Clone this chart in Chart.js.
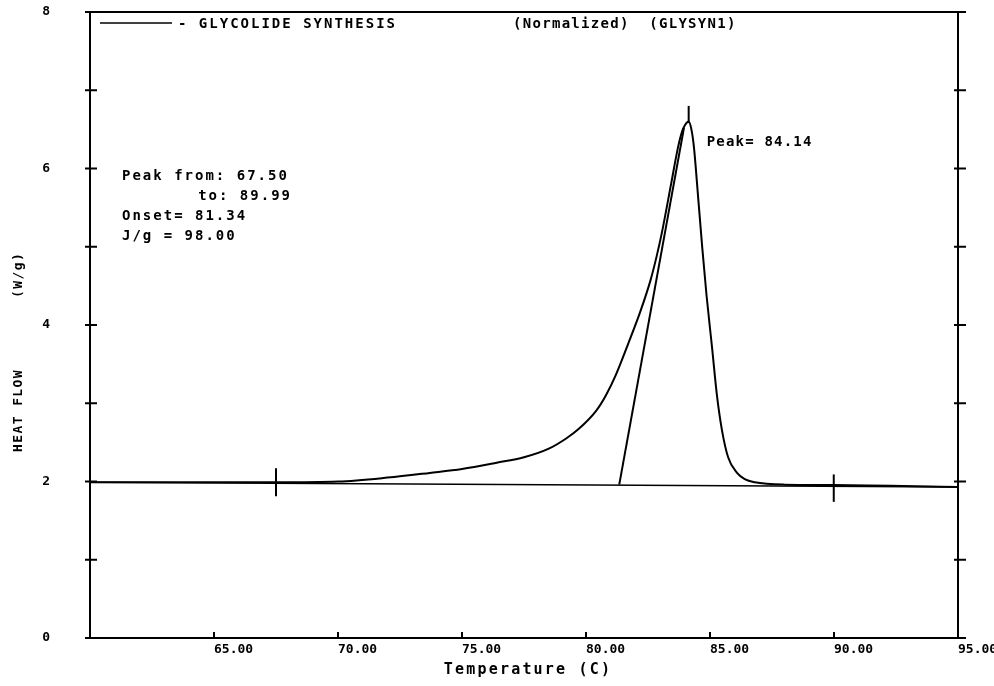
<!DOCTYPE html>
<html>
<head>
<meta charset="utf-8">
<title>GLYCOLIDE SYNTHESIS - DSC</title>
<script src="https://cdn.jsdelivr.net/npm/chart.js@4.4.1/dist/chart.umd.min.js"></script>
<style>
  html, body { margin: 0; padding: 0; background: #fff; }
  #wrap { width: 994px; height: 686px; }
</style>
</head>
<body>
<div id="wrap"><canvas id="dsc" width="994" height="686"></canvas></div>
<script>
// ---- data ----
const temps = [60, 65, 67.5, 70, 72, 73.7, 75, 76.4, 77.5, 78.5, 79.2, 79.7, 80.4, 80.8, 81.2, 81.7,
  82.2, 82.6, 82.85, 83.06, 83.43, 83.71, 83.87, 84.0, 84.14, 84.25, 84.35, 84.53, 84.69, 84.86, 85.08,
  85.28, 85.48, 85.73, 86.09, 86.4, 86.8, 88, 90, 95];
const heatFlow = [1.99, 1.99, 1.99, 2.0, 2.05, 2.11, 2.16, 2.24, 2.31, 2.42, 2.55, 2.67, 2.9, 3.1, 3.36, 3.76,
  4.18, 4.57, 4.88, 5.18, 5.8, 6.27, 6.47, 6.56, 6.6, 6.5, 6.28, 5.6, 4.98, 4.38, 3.72,
  3.1, 2.66, 2.31, 2.11, 2.03, 1.99, 1.96, 1.955, 1.93];

const baseTemps = [60, 95];
const baseFlow = [1.99, 1.93];

const onsetTemps = [81.34, 83.95];
const onsetFlow = [1.96, 6.52];

// vertical markers: peak start, peak end, peak max
const markerTemps = [67.5, 89.99, 84.14];
const markerLow = [1.81, 1.74, 6.58];
const markerHigh = [2.17, 2.09, 6.8];

const xTickValues = [60, 65, 70, 75, 80, 85, 90, 95];
const yTickValues = [0, 1, 2, 3, 4, 5, 6, 7, 8];

const infoLines = ['Peak from: 67.50', 'to: 89.99', 'Onset= 81.34', 'J/g = 98.00'];

const MONO = '"DejaVu Sans Mono", "Liberation Mono", monospace';

const pts = (xs, ys) => xs.map((v, i) => ({ x: v, y: ys[i] }));

const lineSet = (data, width, extra = {}) => ({
  data,
  showLine: true,
  borderColor: '#000',
  borderWidth: width,
  pointRadius: 0,
  fill: false,
  ...extra
});

const datasets = [
  lineSet(pts(temps, heatFlow), 2, { cubicInterpolationMode: 'monotone' }),
  lineSet(pts(baseTemps, baseFlow), 1.6),
  lineSet(pts(onsetTemps, onsetFlow), 2)
];
markerTemps.forEach((t, i) => {
  datasets.push(lineSet([{ x: t, y: markerLow[i] }, { x: t, y: markerHigh[i] }], 2));
});

// scale box is fixed so the plot frame sits where the plotter put it
const fixBox = (size) => (s) => {
  if (s.isHorizontal()) s.height = size; else s.width = size;
  s.paddingTop = 0; s.paddingBottom = 0; s.paddingLeft = 0; s.paddingRight = 0;
};

// frame, inward ticks and the plotter texts
const plotterDecor = {
  id: 'plotterDecor',
  afterDraw(chart) {
    const { ctx, chartArea: a, scales: { x, y } } = chart;
    const seg = (x1, y1, x2, y2) => {
      ctx.beginPath(); ctx.moveTo(x1, y1); ctx.lineTo(x2, y2); ctx.stroke();
    };
    ctx.save();
    ctx.strokeStyle = '#000';
    ctx.fillStyle = '#000';
    ctx.lineWidth = 2;
    ctx.strokeRect(a.left, a.top, a.right - a.left, a.bottom - a.top);

    y.ticks.forEach(t => {
      const py = y.getPixelForValue(t.value);
      seg(a.left - 5, py, a.left + 7, py);
      seg(a.right - 4, py, a.right + 8, py);
    });
    x.ticks.forEach(t => {
      if (t.value <= x.min || t.value >= x.max) return;
      const px = x.getPixelForValue(t.value);
      seg(px, a.bottom - 6, px, a.bottom);
    });

    // legend line
    ctx.lineWidth = 1.5;
    seg(a.left + 10, a.top + 11, a.left + 82, a.top + 11);

    ctx.font = 'bold 14px ' + MONO;
    ctx.letterSpacing = '2px';
    ctx.textBaseline = 'middle';
    ctx.textAlign = 'left';
    ctx.fillText('- GLYCOLIDE SYNTHESIS', a.left + 88, a.top + 12);
    ctx.letterSpacing = '1.3px';
    ctx.fillText('(Normalized)  (GLYSYN1)', a.left + 423, a.top + 12);

    // peak info block
    ctx.letterSpacing = '2px';
    ctx.fillText(infoLines[0], a.left + 32, a.top + 164);
    ctx.textAlign = 'right';
    ctx.fillText(infoLines[1], a.left + 202, a.top + 184);
    ctx.textAlign = 'left';
    ctx.fillText(infoLines[2], a.left + 32, a.top + 204);
    ctx.fillText(infoLines[3], a.left + 32, a.top + 224);

    ctx.letterSpacing = '1.2px';
    ctx.fillText('Peak= ' + markerTemps[2].toFixed(2),
      x.getPixelForValue(markerTemps[2]) + 18, y.getPixelForValue(6.34));

    // axis titles
    ctx.font = 'bold 15px ' + MONO;
    ctx.letterSpacing = '2.2px';
    ctx.textAlign = 'center';
    ctx.fillText('Temperature (C)', (a.left + a.right) / 2 + 4, a.bottom + 32);

    ctx.font = 'bold 13px ' + MONO;
    ctx.letterSpacing = '1.4px';
    ctx.textAlign = 'left';
    ctx.save();
    ctx.translate(19, 452);
    ctx.rotate(-Math.PI / 2);
    ctx.fillText('HEAT FLOW', 0, 0);
    ctx.restore();
    ctx.save();
    ctx.translate(19, 298);
    ctx.rotate(-Math.PI / 2);
    ctx.fillText('(W/g)', 0, 0);
    ctx.restore();

    ctx.restore();
  }
};

new Chart(document.getElementById('dsc'), {
  type: 'scatter',
  data: { datasets },
  options: {
    responsive: false,
    animation: false,
    layout: { padding: { top: 12, right: 36, left: 0, bottom: 0 } },
    plugins: {
      legend: { display: false },
      tooltip: { enabled: false }
    },
    scales: {
      x: {
        type: 'linear',
        min: 60,
        max: 95,
        grid: { display: false, drawTicks: false },
        border: { display: false },
        afterBuildTicks: s => { s.ticks = xTickValues.map(v => ({ value: v })); },
        afterFit: fixBox(48),
        ticks: {
          align: 'start',
          padding: 4,
          maxRotation: 0,
          autoSkip: false,
          color: '#000',
          font: { family: MONO, size: 13, weight: 'bold' },
          callback: v => (v === 60 ? '' : Number(v).toFixed(2))
        }
      },
      y: {
        type: 'linear',
        min: 0,
        max: 8,
        grid: { display: false, drawTicks: false },
        border: { display: false },
        afterBuildTicks: s => { s.ticks = yTickValues.map(v => ({ value: v })); },
        afterFit: fixBox(90),
        ticks: {
          padding: 40,
          autoSkip: false,
          color: '#000',
          font: { family: MONO, size: 13, weight: 'bold' },
          callback: v => (v % 2 === 0 ? String(v) : '')
        }
      }
    }
  },
  plugins: [plotterDecor]
});
</script>
</body>
</html>
